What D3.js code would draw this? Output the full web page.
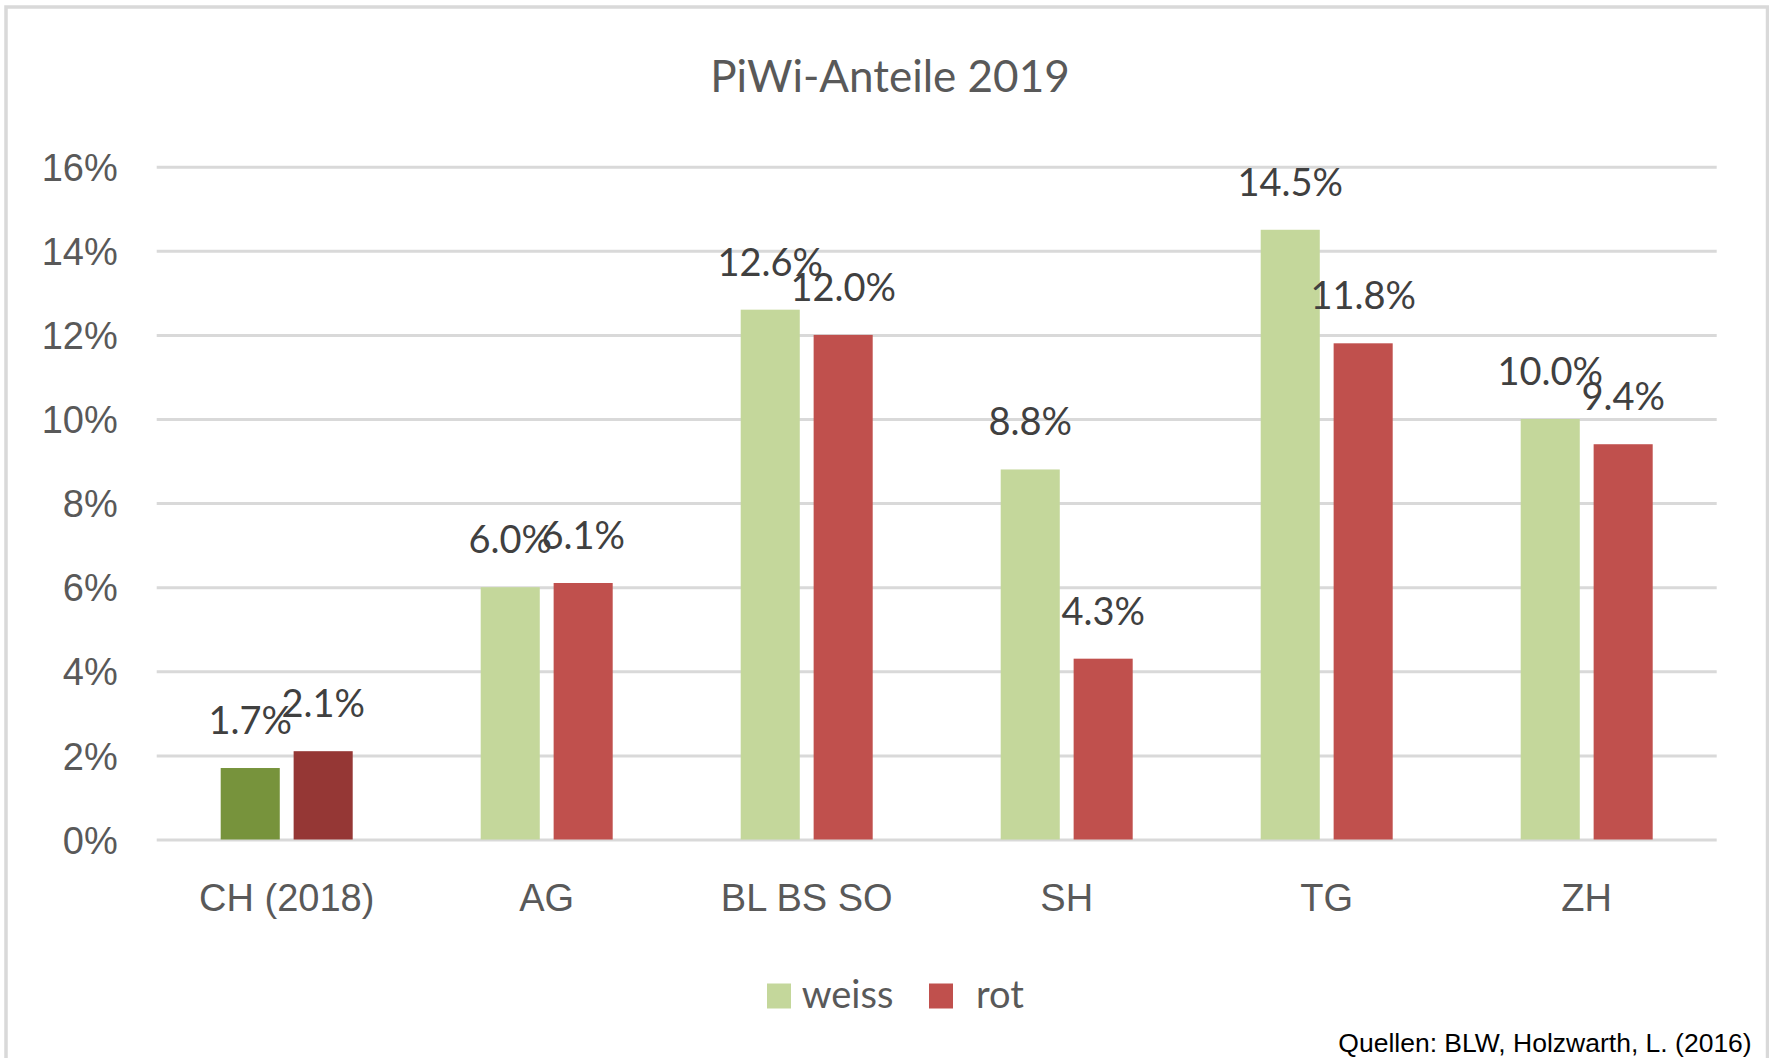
<!DOCTYPE html>
<html>
<head>
<meta charset="utf-8">
<script src="https://cdn.jsdelivr.net/npm/d3@7"></script>
<style>
  html, body { margin: 0; padding: 0; background: #fff; }
  svg { display: block; font-family: Lato, "Open Sans", sans-serif; }
  .grid line { stroke: #d9d9d9; stroke-width: 3; }
  .grid text { fill: #595959; font-size: 38px; }
  .xaxis text { fill: #595959; font-size: 38px; }
</style>
</head>
<body>
<div id="chart"></div>
<script>
// data
var categories = ["CH (2018)", "AG", "BL BS SO", "SH", "TG", "ZH"];
var seriesNames = ["weiss", "rot"];
var weiss = [0.017, 0.060, 0.126, 0.088, 0.145, 0.100];
var rot = [0.021, 0.061, 0.120, 0.043, 0.118, 0.094];
var yTicks = [0, 0.02, 0.04, 0.06, 0.08, 0.10, 0.12, 0.14, 0.16];
var title = "PiWi-Anteile 2019";
var source = "Quellen: BLW, Holzwarth, L. (2016)";

var svgWidth = 1769;
var svgHeight = 1058;

// colours: normal series, and the darker CH bars
var colors = { weiss: "#c4d79b", rot: "#c0504d" };
var chColors = { weiss: "#77933c", rot: "#953735" };

var plot = { left: 156.7, right: 1716.7, top: 166.7, bottom: 839.5 };

var svg = d3.select("#chart")
  .append("svg")
  .attr("width", svgWidth)
  .attr("height", svgHeight);

// outer chart border (bottom edge falls outside the picture)
svg.append("rect")
  .attr("x", 6)
  .attr("y", 7)
  .attr("width", 1761.5)
  .attr("height", 1200)
  .attr("fill", "none")
  .attr("stroke", "#d9d9d9")
  .attr("stroke-width", 3.5);

// scales
var x0 = d3.scaleBand()
  .domain(categories)
  .range([plot.left, plot.right]);

var x1 = d3.scaleBand()
  .domain(seriesNames)
  .range([x0.bandwidth() / 2 - 66, x0.bandwidth() / 2 + 66])
  .paddingInner(0.19);

var y = d3.scaleLinear()
  .domain([0, 0.16])
  .range([plot.bottom, plot.top]);

// gridlines + y labels
var gridW = plot.right - plot.left;
svg.append("g")
  .attr("class", "grid")
  .attr("transform", `translate(${plot.right},0)`)
  .call(d3.axisLeft(y)
    .tickValues(yTicks)
    .tickFormat(d3.format(".0%"))
    .tickSize(gridW)
    .tickPadding(39))
  .call(g => g.select(".domain").remove())
  .call(g => g.selectAll("text").attr("dy", "0.36em"));

// x labels
svg.append("g")
  .attr("class", "xaxis")
  .attr("transform", `translate(0,${plot.bottom})`)
  .call(d3.axisBottom(x0).tickSize(0).tickPadding(0))
  .call(g => g.select(".domain").remove())
  .call(g => g.selectAll("text").attr("dy", null).attr("y", 71));

// bars
var rows = categories.map(function(c, i) {
  return { cat: c, i: i, values: [
    { key: "weiss", value: weiss[i] },
    { key: "rot", value: rot[i] }
  ] };
});

var groups = svg.append("g").selectAll("g")
  .data(rows)
  .enter()
  .append("g")
  .attr("transform", d => `translate(${x0(d.cat)},0)`);

groups.selectAll("rect")
  .data(d => d.values.map(v => Object.assign({ i: d.i }, v)))
  .enter()
  .append("rect")
  .attr("x", d => x1(d.key))
  .attr("y", d => y(d.value))
  .attr("width", x1.bandwidth())
  .attr("height", d => y(0) - y(d.value))
  .attr("fill", d => d.i === 0 ? chColors[d.key] : colors[d.key]);

// value labels
groups.selectAll("text.val")
  .data(d => d.values)
  .enter()
  .append("text")
  .attr("class", "val")
  .attr("x", d => x1(d.key) + x1.bandwidth() / 2)
  .attr("y", d => y(d.value) - 34)
  .attr("text-anchor", "middle")
  .attr("fill", "#404040")
  .style("font-size", "38px")
  .text(d => d3.format(".1%")(d.value));

// title
svg.append("text")
  .attr("x", 890)
  .attr("y", 91.7)
  .attr("text-anchor", "middle")
  .attr("fill", "#595959")
  .style("font-size", "44px")
  .text(title);

// legend
var legendX = [767, 929];
var legendTextX = [801.7, 976];
var legend = svg.append("g").selectAll("g")
  .data(seriesNames)
  .enter()
  .append("g");

legend.append("rect")
  .attr("x", (d, i) => legendX[i])
  .attr("y", 983.5)
  .attr("width", 24)
  .attr("height", 25)
  .attr("fill", d => colors[d]);

legend.append("text")
  .attr("x", (d, i) => legendTextX[i])
  .attr("y", 1007.7)
  .attr("fill", "#595959")
  .style("font-size", "38px")
  .text(d => d);

// source note
svg.append("text")
  .attr("x", 1751.7)
  .attr("y", 1051.7)
  .attr("text-anchor", "end")
  .attr("fill", "#000")
  .style("font-family", "'Liberation Sans', Arial, sans-serif")
  .style("font-size", "26.5px")
  .text(source);
</script>
</body>
</html>
